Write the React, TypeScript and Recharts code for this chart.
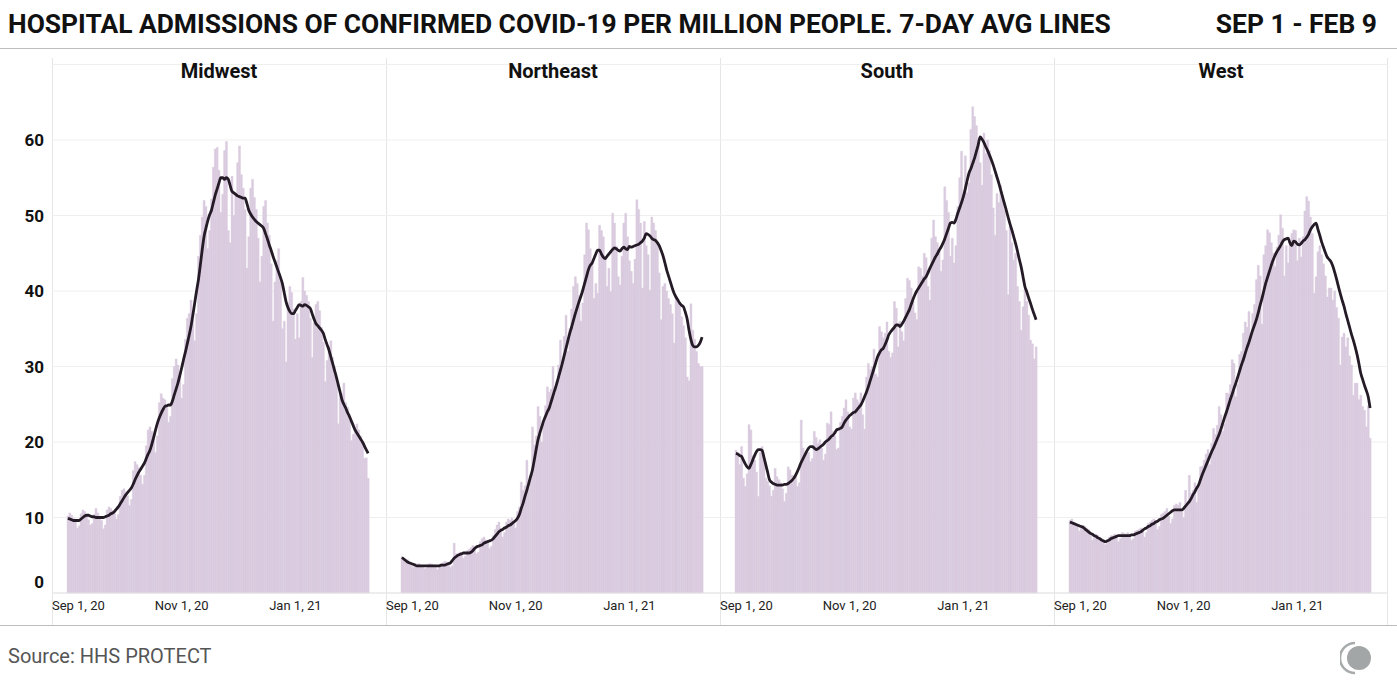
import { ComposedChart, Bar, Line, XAxis, YAxis, CartesianGrid } from 'recharts';

const FONT = "Roboto, 'Noto Sans', sans-serif";

const REGIONS = ['Midwest', 'Northeast', 'South', 'West'];
const TICK_DATES = ['2020-09-01', '2020-11-01', '2021-01-01'];
const TICK_LABELS = ['Sep 1, 20', 'Nov 1, 20', 'Jan 1, 21'];
const Y_TICKS = [0, 10, 20, 30, 40, 50, 60];

// daily admissions per million, Sep 1 2020 - Feb 9 2021 (one row = one week, Tue..Mon)
const MIDWEST_DAILY = [
  10.2, 10.6, 10.3, 9.9, 9.4, 8.6, 8.9,
  10.5, 11.0, 10.8, 10.4, 9.7, 9.0, 9.2,
  10.4, 11.2, 10.6, 10.2, 9.6, 8.5, 9.0,
  11.0, 11.4, 11.2, 10.9, 10.5, 9.8, 10.4,
  12.8, 13.6, 13.8, 13.4, 12.9, 11.6, 12.4,
  16.2, 17.4, 17.0, 16.6, 15.6, 14.4, 15.6,
  19.5, 21.6, 22.0, 21.4, 20.4, 18.6, 20.8,
  25.2, 26.4, 25.8, 25.6, 24.6, 22.6, 23.4,
  28.4, 30.0, 31.0, 30.2, 28.8, 25.8, 27.6,
  33.6, 36.4, 37.0, 38.8, 36.2, 33.4, 37.0,
  44.6, 47.4, 49.8, 52.0, 51.2, 45.6, 48.0,
  52.2, 56.4, 58.8, 59.0, 56.0, 50.4, 52.8,
  58.6, 59.8, 48.0, 46.4, 55.2, 50.0, 52.6,
  57.0, 59.2, 55.4, 53.6, 50.8, 43.0, 47.2,
  53.6, 54.8, 52.4, 50.8, 47.0, 41.2, 44.6,
  51.2, 52.0, 49.0, 47.4, 43.6, 36.0, 41.2,
  44.0, 45.6, 41.2, 35.0, 36.0, 30.6, 38.4,
  40.6, 39.8, 37.6, 33.6, 37.0, 33.8, 38.6,
  41.8, 40.0, 39.4, 38.6, 36.4, 31.2, 35.8,
  38.2, 38.6, 37.4, 35.2, 33.2, 28.0, 30.8,
  32.6, 33.4, 31.2, 30.0, 28.2, 22.4, 26.2,
  26.4, 27.8, 25.2, 24.6, 23.0, 20.2, 21.0,
  22.0, 22.4, 21.6, 20.8, 19.8, 17.8, 17.9,
  15.2,
];
const MIDWEST_AVG = [
  9.9, 9.8, 9.7, 9.6, 9.6, 9.6, 9.6,
  9.8, 10.0, 10.2, 10.3, 10.3, 10.2, 10.1,
  10.1, 10.0, 10.0, 10.0, 10.0, 10.0, 10.1,
  10.2, 10.3, 10.5, 10.6, 10.8, 11.1, 11.4,
  11.8, 12.2, 12.6, 13.0, 13.3, 13.6, 13.9,
  14.4, 15.0, 15.5, 16.0, 16.4, 16.8, 17.2,
  17.8, 18.4, 18.9, 19.7, 20.6, 21.6, 22.5,
  23.2, 23.8, 24.3, 24.7, 24.8, 24.9, 24.9,
  25.4, 26.2, 27.0, 27.8, 28.8, 29.8, 30.9,
  31.9, 33.0, 34.1, 35.3, 36.8, 38.4, 40.0,
  41.5, 43.4, 45.4, 47.2, 48.3, 49.3, 50.1,
  50.7, 51.7, 52.7, 53.5, 54.3, 55.0, 55.0,
  54.8, 55.0, 54.8, 54.0, 53.2, 53.0, 52.8,
  52.6, 52.5, 52.4, 52.3, 52.3, 51.6, 50.7,
  50.2, 49.8, 49.5, 49.2, 49.0, 48.8, 48.6,
  48.3, 47.6, 46.9, 46.1, 45.4, 44.6, 43.9,
  43.2, 42.5, 41.8, 41.0, 39.8, 38.6, 37.8,
  37.3, 37.0, 37.0, 37.4, 37.8, 38.2, 38.1,
  38.0, 38.2, 38.1, 37.9, 37.7, 37.0, 36.3,
  35.7, 35.4, 35.1, 34.8, 34.4, 33.6, 32.9,
  32.2, 31.3, 30.4, 29.5, 28.6, 27.6, 26.6,
  25.6, 25.0, 24.5, 23.9, 23.4, 22.8, 22.2,
  21.6, 21.2, 20.8, 20.4, 20.0, 19.5, 19.0,
  18.5,
];

const NORTHEAST_DAILY = [
  4.8, 4.6, 4.5, 4.4, 4.0, 3.6, 3.4,
  3.9, 3.8, 3.9, 3.7, 3.5, 3.2, 3.3,
  3.8, 3.9, 3.8, 3.7, 3.5, 3.1, 3.4,
  3.9, 4.0, 4.2, 4.1, 3.9, 3.4, 3.6,
  6.6, 5.2, 5.1, 5.4, 5.0, 4.6, 4.9,
  5.6, 5.8, 6.0, 6.3, 6.0, 5.2, 5.4,
  6.8, 7.2, 7.4, 7.0, 6.6, 5.9, 6.2,
  7.6, 8.4, 9.0, 9.4, 8.6, 7.4, 8.0,
  9.4, 9.8, 9.6, 9.9, 9.4, 8.6, 10.8,
  11.4, 14.7, 13.6, 14.2, 17.6, 13.8, 15.6,
  22.0, 19.6, 20.8, 24.7, 23.4, 20.0, 22.6,
  24.8, 27.3, 26.6, 27.0, 30.0, 26.4, 28.0,
  30.2, 33.5, 30.6, 34.0, 36.8, 32.0, 35.0,
  37.6, 40.6, 41.9, 41.0, 39.4, 36.0, 38.4,
  44.8, 49.0, 48.1, 45.6, 44.0, 39.0, 41.0,
  39.7, 48.7, 48.0, 47.2, 44.6, 40.6, 43.0,
  39.9, 50.3, 49.0, 45.9, 41.9, 40.8, 44.6,
  49.0, 50.3, 47.2, 44.0, 42.6, 41.0, 44.2,
  52.1, 50.8, 49.0, 40.4, 49.2, 46.0, 44.8,
  40.1, 49.8, 49.0, 48.0, 46.2, 42.4, 36.2,
  40.6, 41.0, 40.0, 39.0, 38.2, 37.0, 33.1,
  39.2, 38.8, 38.0, 36.6, 35.4, 33.8, 28.6,
  28.1, 38.3, 34.8, 33.6, 32.0, 30.4, 30.0,
  30.0,
];
const NORTHEAST_AVG = [
  4.7, 4.5, 4.3, 4.1, 4.0, 3.9, 3.8,
  3.7, 3.6, 3.6, 3.6, 3.6, 3.6, 3.6,
  3.6, 3.6, 3.6, 3.6, 3.6, 3.6, 3.6,
  3.7, 3.7, 3.7, 3.8, 3.9, 4.0, 4.3,
  4.6, 4.8, 5.0, 5.1, 5.2, 5.3, 5.3,
  5.3, 5.3, 5.4, 5.6, 5.9, 6.1, 6.2,
  6.3, 6.4, 6.6, 6.7, 6.8, 6.9, 7.0,
  7.2, 7.5, 7.8, 8.1, 8.3, 8.4, 8.6,
  8.7, 8.9, 9.0, 9.2, 9.4, 9.6, 9.9,
  10.4, 11.2, 11.9, 12.8, 13.6, 14.5, 15.4,
  16.3, 17.6, 19.0, 20.3, 21.2, 22.0, 22.8,
  23.4, 24.0, 24.5, 25.3, 26.1, 26.9, 27.7,
  28.6, 29.5, 30.4, 31.4, 32.4, 33.4, 34.4,
  35.2, 36.1, 37.0, 37.8, 38.6, 39.3, 40.1,
  41.0, 41.9, 42.8, 43.4, 43.7, 44.3, 44.9,
  45.4, 45.4, 44.9, 44.5, 44.3, 44.6, 44.9,
  45.2, 45.5, 45.7, 45.6, 45.4, 45.3, 45.6,
  45.8, 45.6, 45.5, 45.9, 45.8, 45.9, 46.0,
  46.1, 46.2, 46.4, 46.6, 47.0, 47.6, 47.5,
  47.3, 47.0, 46.8, 46.7, 46.4, 46.0, 45.4,
  44.7, 43.8, 42.8, 42.0, 41.2, 40.4, 39.7,
  39.2, 38.8, 38.4, 38.1, 37.9, 37.2, 36.3,
  34.8, 33.6, 32.8, 32.6, 32.6, 32.8, 33.2,
  33.9,
];

const SOUTH_DAILY = [
  18.9, 18.6, 17.0, 19.4, 15.2, 14.1, 15.8,
  22.3, 21.6, 18.2, 17.6, 16.0, 12.8, 18.6,
  19.4, 17.6, 15.2, 14.8, 14.2, 12.8, 13.6,
  16.5, 15.4, 15.0, 14.6, 13.8, 12.1, 13.2,
  16.7, 16.3, 15.6, 15.0, 15.4, 14.1, 14.6,
  22.9, 19.2, 18.0, 18.8, 18.6, 17.4, 17.8,
  21.4, 20.6, 19.8, 20.3, 19.2, 17.6, 18.4,
  22.5, 22.3, 24.0, 21.4, 20.8, 19.0, 19.2,
  22.6, 23.4, 24.5, 25.6, 24.0, 22.0, 21.7,
  25.8, 26.5, 25.6, 25.2, 26.5, 23.6, 21.7,
  28.6, 30.4, 29.6, 30.0, 32.3, 29.0, 28.6,
  35.3, 34.6, 33.8, 34.4, 35.9, 32.0, 31.2,
  31.8, 38.6, 37.7, 32.6, 36.0, 34.6, 33.4,
  39.0, 41.7, 41.4, 40.4, 38.6, 37.1, 36.2,
  43.2, 43.0, 42.0, 45.0, 44.4, 40.6, 38.8,
  47.0, 49.4, 47.2, 46.4, 45.6, 42.6, 44.1,
  53.8, 52.0, 50.4, 44.6, 47.0, 43.7, 46.0,
  51.2, 55.0, 58.5, 52.0, 57.9, 53.0, 54.3,
  61.4, 64.4, 63.1, 61.9, 60.0, 57.0, 54.0,
  60.9, 58.2, 60.0, 58.6, 55.4, 51.0, 47.4,
  52.9, 51.7, 54.0, 52.4, 50.7, 48.0, 39.5,
  48.6, 46.4, 44.1, 45.0, 40.6, 38.6, 34.8,
  37.9, 40.2, 38.6, 36.8, 33.5, 33.0, 31.0,
  32.6,
];
const SOUTH_AVG = [
  18.5, 18.4, 18.2, 18.1, 17.6, 17.1, 16.7,
  16.5, 17.0, 17.6, 18.2, 18.7, 19.0, 19.0,
  18.9, 18.0, 17.0, 16.0, 15.0, 14.7, 14.5,
  14.4, 14.3, 14.3, 14.3, 14.3, 14.4, 14.4,
  14.5, 14.7, 14.9, 15.2, 15.6, 16.1, 16.7,
  17.3, 17.8, 18.3, 18.8, 19.2, 19.4, 19.4,
  19.2, 19.0, 19.1, 19.3, 19.5, 19.7, 20.0,
  20.2, 20.4, 20.7, 20.9, 21.2, 21.6, 21.7,
  21.8, 22.0, 22.5, 22.9, 23.2, 23.5, 23.7,
  23.9, 24.0, 24.3, 24.6, 24.9, 25.4, 26.0,
  26.6, 27.3, 28.1, 28.9, 29.7, 30.5, 31.3,
  31.8, 32.2, 32.4, 32.9, 33.5, 34.2, 34.6,
  34.9, 35.2, 35.5, 35.5, 35.3, 35.6, 36.0,
  36.5, 37.0, 37.5, 38.2, 38.9, 39.5, 40.0,
  40.4, 40.8, 41.2, 41.6, 41.9, 42.4, 43.0,
  43.5, 44.0, 44.5, 44.9, 45.4, 45.8, 46.3,
  46.9, 47.6, 48.3, 49.0, 49.1, 49.0, 49.5,
  50.3, 51.0, 51.7, 52.5, 53.5, 54.6, 55.6,
  56.2, 56.9, 57.6, 58.5, 59.4, 60.4, 60.1,
  59.7, 59.1, 58.6, 58.0, 57.4, 56.7, 55.9,
  55.1, 54.3, 53.4, 52.5, 51.6, 50.7, 49.8,
  48.9, 48.1, 47.2, 46.3, 45.3, 44.2, 43.2,
  41.9, 40.6, 39.9, 39.1, 38.4, 37.6, 36.9,
  36.2,
];

const WEST_DAILY = [
  9.6, 9.8, 9.4, 9.2, 9.0, 8.2, 8.6,
  9.0, 8.8, 8.6, 8.4, 7.8, 7.0, 7.6,
  7.8, 7.6, 7.4, 7.2, 6.8, 6.4, 6.6,
  7.4, 7.6, 7.6, 7.8, 7.4, 6.8, 7.2,
  8.0, 7.9, 7.8, 8.0, 7.6, 7.0, 7.2,
  8.2, 8.3, 8.4, 8.6, 8.2, 7.4, 8.0,
  9.2, 9.4, 9.6, 9.8, 9.2, 8.4, 8.8,
  10.4, 10.6, 10.8, 11.2, 10.2, 9.2, 9.8,
  11.6, 11.8, 11.6, 12.0, 11.0, 10.0, 13.6,
  11.6, 15.6, 13.2, 13.6, 14.6, 12.0, 14.0,
  16.7, 16.8, 17.6, 18.4, 19.0, 17.0, 19.8,
  21.8, 21.0, 22.2, 24.7, 23.6, 21.4, 22.4,
  26.5, 26.4, 27.6, 30.9, 30.4, 26.0, 27.6,
  31.6, 32.0, 34.4, 35.9, 35.2, 37.3, 33.9,
  37.0, 38.2, 41.5, 43.4, 42.0, 35.6, 44.8,
  46.0, 48.1, 47.7, 46.4, 45.0, 43.2, 45.8,
  47.4, 50.1, 48.3, 42.0, 46.0, 43.7, 46.3,
  47.6, 48.1, 48.0, 44.0, 47.0, 44.5, 47.2,
  50.6, 52.5, 51.9, 49.8, 47.6, 39.7, 41.9,
  45.2, 46.0, 44.8, 43.6, 42.0, 39.2, 40.4,
  40.4, 38.8, 40.0, 37.8, 36.4, 30.2, 33.9,
  34.4, 32.6, 33.8, 31.4, 30.2, 26.2, 27.8,
  27.8, 25.6, 26.2, 24.7, 24.2, 22.0, 24.8,
  20.5,
];
const WEST_AVG = [
  9.4, 9.3, 9.2, 9.1, 9.0, 8.9, 8.8,
  8.7, 8.5, 8.3, 8.1, 7.9, 7.8, 7.6,
  7.5, 7.3, 7.2, 7.0, 6.9, 6.8, 6.9,
  7.0, 7.2, 7.3, 7.4, 7.5, 7.6, 7.6,
  7.6, 7.6, 7.6, 7.6, 7.6, 7.7, 7.7,
  7.8, 7.9, 8.0, 8.1, 8.3, 8.5, 8.6,
  8.8, 8.9, 9.1, 9.2, 9.4, 9.5, 9.7,
  9.8, 9.9, 10.1, 10.3, 10.5, 10.7, 10.9,
  11.0, 11.0, 11.0, 11.0, 11.0, 11.2, 11.5,
  11.8, 12.1, 12.5, 13.0, 13.4, 13.9, 14.3,
  15.0, 15.7, 16.3, 16.9, 17.5, 18.1, 18.7,
  19.2, 19.8, 20.4, 21.0, 21.7, 22.5, 23.3,
  24.0, 24.8, 25.6, 26.3, 27.1, 27.8, 28.6,
  29.4, 30.2, 30.9, 31.7, 32.5, 33.2, 34.0,
  34.8, 35.5, 36.2, 37.1, 38.1, 39.0, 40.0,
  41.0, 41.8, 42.6, 43.4, 44.1, 44.7, 45.2,
  45.6, 46.0, 46.5, 46.8, 46.9, 47.0, 46.4,
  46.0, 46.6, 46.5, 46.2, 46.1, 46.3, 46.6,
  46.8, 47.1, 47.5, 48.1, 48.5, 48.8, 49.0,
  48.2, 47.4, 46.5, 45.8, 45.1, 44.5, 44.2,
  43.9, 43.3, 42.5, 41.6, 40.6, 39.7, 38.8,
  38.0, 37.0, 36.1, 35.2, 34.3, 33.5, 32.6,
  31.6, 30.4, 29.1, 28.3, 27.5, 26.8, 26.0,
  24.5,
];

const DAILY = [MIDWEST_DAILY, NORTHEAST_DAILY, SOUTH_DAILY, WEST_DAILY];
const AVG = [MIDWEST_AVG, NORTHEAST_AVG, SOUTH_AVG, WEST_AVG];

function dayLabels(start: string, count: number) {
  const out: string[] = [];
  const t0 = Date.parse(start + 'T00:00:00Z');
  for (let i = 0; i < count; i++) {
    out.push(new Date(t0 + i * 86400000).toISOString().slice(0, 10));
  }
  return out;
}
const DATES = dayLabels('2020-09-01', MIDWEST_DAILY.length);

const PANEL_X = [52, 386, 720, 1054];
const PANEL_W = 334;
const CHART_TOP = 58;
const CHART_H = 567;
const BAR_FILL = '#dacbdf';

function XTick(props: any) {
  const { x, y, payload } = props;
  const i = TICK_DATES.indexOf(payload.value);
  if (i < 0) return null;
  const first = i === 0;
  return (
    <text
      x={first ? x - 16 : x}
      y={y}
      dy="0.71em"
      textAnchor={first ? 'start' : 'middle'}
      fontSize={13}
      fontFamily={FONT}
      fill="#222"
    >
      {TICK_LABELS[i]}
    </text>
  );
}

function YTick(props: any) {
  const { x, y, payload } = props;
  return (
    <text
      x={x}
      y={payload.value === 0 ? y - 11 : y}
      dy="0.355em"
      textAnchor="end"
      fontSize={17}
      fontWeight={700}
      fontFamily={FONT}
      fill="#111"
    >
      {payload.value}
    </text>
  );
}

function RegionChart({ idx }: { idx: number }) {
  const rows = DATES.map((date, i) => ({ date, daily: DAILY[idx][i], avg: AVG[idx][i] }));
  const withAxis = idx === 0;
  const left = withAxis ? 0 : PANEL_X[idx];
  const width = withAxis ? PANEL_X[0] + PANEL_W : PANEL_W;
  return (
    <div style={{ position: 'absolute', left, top: CHART_TOP }}>
      <ComposedChart
        width={width}
        height={CHART_H}
        data={rows}
        margin={{ top: 6.5, right: 0, bottom: 0, left: 0 }}
        barCategoryGap={0}
        barGap={0}
      >
        <CartesianGrid vertical={false} stroke="#efefef" />
        <XAxis
          dataKey="date"
          ticks={TICK_DATES}
          interval={0}
          padding={{ left: 15, right: 17 }}
          height={32}
          tickSize={0}
          tickMargin={8}
          tick={<XTick />}
          axisLine={{ stroke: '#e3e3e3' }}
          tickLine={false}
        />
        <YAxis
          hide={!withAxis}
          width={withAxis ? PANEL_X[0] : 0}
          domain={[0, 70]}
          ticks={Y_TICKS}
          tickSize={0}
          tickMargin={8}
          tick={<YTick />}
          axisLine={false}
          tickLine={false}
        />
        <Bar
          dataKey="daily"
          fill={BAR_FILL}
          stroke={BAR_FILL}
          strokeWidth={0.4}
          isAnimationActive={false}
        />
        <Line
          dataKey="avg"
          type="monotone"
          stroke="#241b27"
          strokeWidth={2.8}
          dot={false}
          isAnimationActive={false}
        />
      </ComposedChart>
    </div>
  );
}

export default function App() {
  return (
    <div
      style={{
        position: 'absolute',
        left: 0,
        top: 0,
        width: 1397,
        height: 690,
        background: '#fff',
        fontFamily: FONT,
        overflow: 'hidden',
      }}
    >
      <div
        style={{
          position: 'absolute',
          left: 8,
          top: 11,
          fontSize: 26.4,
          lineHeight: 1,
          fontWeight: 700,
          color: '#111',
          whiteSpace: 'nowrap',
        }}
      >
        HOSPITAL ADMISSIONS OF CONFIRMED COVID-19 PER MILLION PEOPLE. 7-DAY AVG LINES
      </div>
      <div
        style={{
          position: 'absolute',
          right: 20,
          top: 11,
          fontSize: 26.4,
          lineHeight: 1,
          fontWeight: 700,
          color: '#111',
          whiteSpace: 'nowrap',
        }}
      >
        SEP 1 - FEB 9
      </div>
      <div style={{ position: 'absolute', left: 0, top: 48, width: 1397, height: 1, background: '#bdbdbd' }} />

      {REGIONS.map((name, i) => (
        <div
          key={name}
          style={{
            position: 'absolute',
            left: PANEL_X[i],
            top: CHART_TOP,
            width: PANEL_W,
            height: CHART_H,
            borderLeft: '1px solid #e6e6e6',
            borderRight: i === REGIONS.length - 1 ? '1px solid #e6e6e6' : undefined,
            boxSizing: 'border-box',
          }}
        />
      ))}

      {REGIONS.map((_, i) => (
        <RegionChart key={i} idx={i} />
      ))}

      {REGIONS.map((name, i) => (
        <div
          key={'t' + name}
          style={{
            position: 'absolute',
            left: PANEL_X[i],
            top: 61,
            width: PANEL_W,
            textAlign: 'center',
            fontSize: 20,
            lineHeight: 1,
            fontWeight: 700,
            color: '#111',
          }}
        >
          {name}
        </div>
      ))}

      <div style={{ position: 'absolute', left: 0, top: 625, width: 1397, height: 1, background: '#bdbdbd' }} />
      <div style={{ position: 'absolute', left: 8, top: 646, fontSize: 20, lineHeight: 1, color: '#555' }}>
        Source: HHS PROTECT
      </div>
      <svg style={{ position: 'absolute', left: 1340, top: 640 }} width={36} height={36}>
        <path d="M 15 3 A 15 15 0 0 0 15 33" fill="none" stroke="#a7abab" strokeWidth={2.5} />
        <circle cx={19} cy={18} r={12} fill="#a2a6a6" />
      </svg>
    </div>
  );
}
